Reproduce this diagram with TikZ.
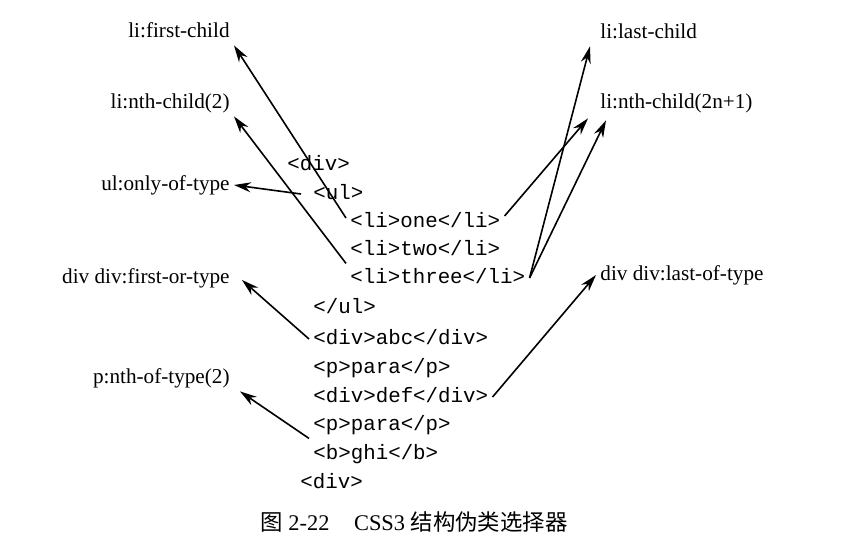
\documentclass[tikz,border=0pt]{standalone}
\usepackage{fontspec}
\setmainfont{Liberation Serif}
\newfontfamily\codefont{Liberation Mono}
\newfontfamily\cjk{Noto Sans CJK SC}
\usepackage{tikz}
\usetikzlibrary{arrows.meta}
\tikzset{code/.style={anchor=west,inner sep=2pt,text height=7pt,text depth=2pt,font=\codefont\fontsize{10.4}{12}\selectfont}}
\tikzset{selL/.style={anchor=east,inner sep=2pt,text height=7pt,text depth=2pt,font=\fontsize{10.6}{12}\selectfont}}
\tikzset{selR/.style={selL,anchor=west}}
\tikzset{ptr/.style={line width=0.8pt,-{Stealth[length=8.5pt,width=5pt]}}}

\begin{document}
\begin{tikzpicture}[x=0.5pt,y=-0.5pt]
\useasboundingbox (0,0) rectangle (853,542);

% the html source
\node[code] (divopen) at (283,165) {<div>};
\node[code] (ulopen)  at (309,194) {<ul>};
\node[code] (lione)   at (346,222) {<li>one</li>};
\node[code] (litwo)   at (346,250) {<li>two</li>};
\node[code] (lithree) at (346,278) {<li>three</li>};
\node[code] (ulclose) at (309,308) {</ul>};
\node[code] (divabc)  at (309,339) {<div>abc</div>};
\node[code] (pone)    at (309,368) {<p>para</p>};
\node[code] (divdef)  at (309,397) {<div>def</div>};
\node[code] (ptwo)    at (309,425) {<p>para</p>};
\node[code] (bghi)    at (309,454) {<b>ghi</b>};
\node[code] (divclose) at (296,483) {<div>};

% selectors, left
\node[selL] (firstchild) at (234,32)  {li:first-child};
\node[selL] (nthtwo)     at (234,103) {li:nth-child(2)};
\node[selL] (onlytype)   at (234,185) {ul:only-of-type};
\node[selL] (firsttype)  at (234,278) {div div:first-or-type};
\node[selL] (nthtype)    at (234,378) {p:nth-of-type(2)};

% selectors, right
\node[selR] (lastchild) at (596,33)  {li:last-child};
\node[selR] (nthodd)    at (596,103) {li:nth-child(2n+1)};
\node[selR] (lasttype)  at (596,275) {div div:last-of-type};

\draw[ptr] ([yshift=2pt]lione.west) -- (firstchild.south east);
\draw[ptr] (litwo.south west) -- (nthtwo.south east);
\draw[ptr] ([xshift=-4pt]ulopen.west) -- (onlytype.east);
\draw[ptr] (divabc.west) -- ([xshift=4pt,yshift=-1pt]firsttype.east);
\draw[ptr] (ptwo.south west) -- ([xshift=3pt]nthtype.south east);

\draw[ptr] (lithree.east) -- ([xshift=-3pt]lastchild.south west);
\draw[ptr] ([yshift=3pt]lione.east) -- ([xshift=-4pt,yshift=-1pt]nthodd.south west);
\draw[ptr] (lithree.east) -- ([xshift=5pt,yshift=-2pt]nthodd.south west);
\draw[ptr] (divdef.east) -- (lasttype.west);

\node[font=\fontsize{11.2}{13}\selectfont] (caption) at (414,522)
  {{\cjk 图} 2-22\hspace{1.1em}CSS3 {\cjk 结构伪类选择器}};
\end{tikzpicture}
\end{document}
